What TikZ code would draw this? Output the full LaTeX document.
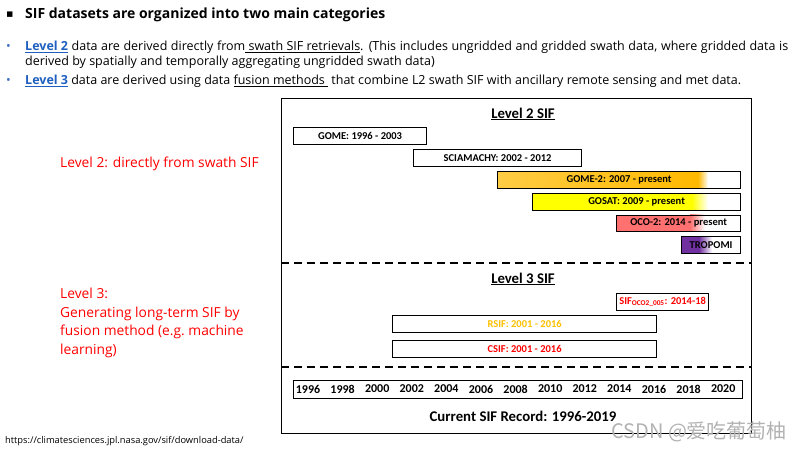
\documentclass[tikz,border=0pt]{standalone}
\usepackage{fontspec}
\setmainfont{Open Sans}
\newfontfamily\chartfont{Carlito}
\newfontfamily\symfont{DejaVu Sans}
\newfontfamily\cjkfont{Noto Sans CJK SC}
\usetikzlibrary{positioning}
\definecolor{linkblue}{HTML}{1F5FBF}
\definecolor{bulletblue}{HTML}{4472C4}
\definecolor{notered}{HTML}{FF0000}
\definecolor{gomeorange}{HTML}{FFB900}
\definecolor{gomelight}{HTML}{FFCC44}
\definecolor{gosatyellow}{HTML}{FFFF00}
\definecolor{ocored}{HTML}{FF7070}
\definecolor{tropopurple}{HTML}{7030A0}
\definecolor{rsifgold}{HTML}{FFC000}

\tikzset{
  bar/.style={draw, line width=1.2pt, anchor=north west, minimum height=16.5pt,
    inner sep=0pt, font=\chartfont\bfseries\fontsize{10.5}{11}\selectfont},
  yearlbl/.style={font=\chartfont\bfseries\fontsize{12}{13}\selectfont},
  heading/.style={font=\chartfont\bfseries\fontsize{14.8}{15}\selectfont},
  note/.style={anchor=north west, text=notered, align=left, inner sep=0pt,
    font=\fontsize{13.8}{18.5}\selectfont},
  textline/.style={anchor=west, inner sep=0pt, font=\fontsize{12.5}{15}\selectfont},
  sepline/.style={line width=1.2pt, dash pattern=on 8pt off 5pt},
}

\begin{document}
\begin{tikzpicture}[x=1pt, y=-1pt]
  \useasboundingbox (0,0) rectangle (800,450);
  % Header
  \node[anchor=west, inner sep=0pt, font=\symfont\fontsize{11}{12}\selectfont] (sqbullet) at (6,15) {▪};
  \node[anchor=west, inner sep=0pt, font=\bfseries\fontsize{14}{16}\selectfont] (title) at (25,15)
    {SIF datasets are organized into two main categories};
  \node[textline, text=bulletblue] (bulletA) at (6,47) {•};
  \node[textline] (lineA) at (25,47) {\makebox[763pt][s]{\textcolor{linkblue}{\bfseries\underline{Level 2}}
    data are derived directly from\underline{ swath SIF retrievals}. (This includes ungridded and
    gridded swath data, where gridded data is}};
  \node[textline] (lineB) at (25,62) {derived by spatially and temporally aggregating ungridded swath data)};
  \node[textline, text=bulletblue] (bulletB) at (6,81) {•};
  \node[textline] (lineC) at (25,81) {\textcolor{linkblue}{\bfseries\underline{Level 3}} data are derived
    using data \underline{fusion methods } that combine L2 swath SIF with ancillary remote sensing and met data.};

  % Left notes
  \node[note] (noteTwo) at (60,157) {Level 2: directly from swath SIF};
  \node[note] (noteThree) at (60,288) {Level 3:\\Generating long-term SIF by\\fusion method (e.g.\ machine\\learning)};

  % Frame and separators
  \node[draw, line width=1.3pt, anchor=north west, minimum width=470pt, minimum height=335pt,
    inner sep=0pt] (frame) at (281,98) {};
  \draw[sepline] ([yshift=-165pt]frame.north west) -- ([yshift=-165pt]frame.north east);
  \draw[sepline] ([yshift=-269pt]frame.north west) -- ([yshift=-269pt]frame.north east);

  % Level 2 fills (fade to white)
  \shade[left color=gomelight, right color=gomeorange] (497,171) rectangle (698,187.5);
  \shade[left color=gomeorange, right color=white] (698,171) rectangle (708,187.5);
  \fill[gosatyellow] (532,193) rectangle (692,209.5);
  \shade[left color=gosatyellow, right color=white] (692,193) rectangle (708,209.5);
  \fill[ocored] (616,214.5) rectangle (690,231);
  \shade[left color=ocored, right color=white] (690,214.5) rectangle (705,231);
  \fill[tropopurple] (681,236) rectangle (699,252.5);
  \shade[left color=tropopurple, right color=white] (699,236) rectangle (712,252.5);

  % Level 2 SIF
  \node[heading] (lvlTwo) at (523,114) {\underline{Level 2 SIF}};
  \node[bar, minimum width=133pt] (gome) at (293,127) {GOME: 1996 - 2003};
  \node[bar, minimum width=168pt] (sciamachy) at (413,149) {SCIAMACHY: 2002 - 2012};
  \node[bar, minimum width=243pt] (gometwo) at (497,171) {GOME-2: 2007 - present};
  \node[bar, minimum width=208pt] (gosat) at (532,193) {GOSAT: 2009 - present};
  \node[bar, minimum width=124pt] (ocotwo) at (616,214.5) {OCO-2: 2014 - present};
  \node[bar, minimum width=59pt] (tropomi) at (681,236) {TROPOMI};

  % Level 3 SIF
  \node[heading] (lvlThree) at (523,279) {\underline{Level 3 SIF}};
  \node[bar, minimum width=92pt, text=notered] (sifoco) at (616,293)
    {SIF\textsubscript{OCO2\_005}: 2014-18};
  \node[bar, minimum width=264pt, text=rsifgold] (rsif) at (392,315) {RSIF: 2001 - 2016};
  \node[bar, minimum width=264pt, text=notered] (csif) at (392,340) {CSIF: 2001 - 2016};

  % Time axis
  \node[bar, minimum width=449pt, minimum height=18pt] (years) at (293,380) {};
  \foreach \yr [count=\i from 0] in {1996,1998,...,2020}
    \node[yearlbl] (yr\yr) at ({308+34.6*\i},389) {\yr};
  \node[heading] (record) at (523,416) {Current SIF Record: 1996-2019};

  % Source and watermark
  \node[anchor=west, inner sep=0pt, font=\fontsize{9.3}{10}\selectfont] (source) at (5,441)
    {https://climatesciences.jpl.nasa.gov/sif/download-data/};
  \node[anchor=west, inner sep=0pt, text=black!30, font=\cjkfont\fontsize{20}{21}\selectfont]
    (watermark) at (611,432) {CSDN @爱吃葡萄柚};
\end{tikzpicture}
\end{document}
